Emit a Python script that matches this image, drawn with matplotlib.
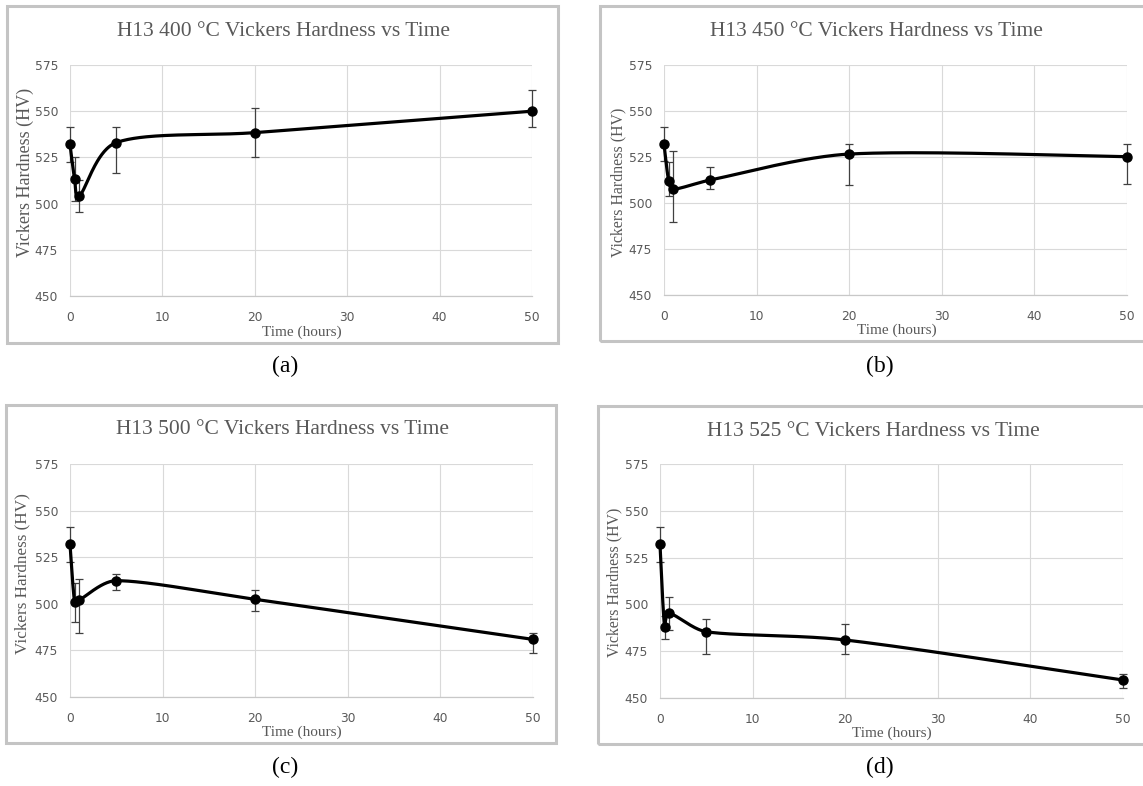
## H13 tempering: Vickers hardness vs time, four temperatures
import matplotlib.pyplot as plt
import numpy as np
from matplotlib.patches import Rectangle

# ---- Data ----
hours = [0, 0.5, 1, 5, 20, 50]

hv_400 = [532, 513.3, 504, 533, 538.4, 550]
err_400_lo = [9.5, 11.7, 8.5, 16.3, 13.0, 8.4]
err_400_hi = [9.5, 11.7, 8.5, 8.6, 13.2, 11.5]

hv_450 = [532, 512.1, 507.5, 512.5, 526.6, 525.2]
err_450_lo = [9.3, 8.3, 18.0, 5.0, 16.8, 15.0]
err_450_hi = [9.3, 10.3, 20.9, 6.9, 5.3, 6.7]

hv_500 = [532, 500.8, 502, 512.4, 502.4, 480.9]
err_500_lo = [9.4, 10.6, 17.5, 5.0, 6.3, 7.1]
err_500_hi = [9.4, 10.6, 11.3, 3.6, 5.0, 3.6]

hv_525 = [532, 487.7, 495.2, 485.4, 481, 459.6]
err_525_lo = [9.3, 6.3, 8.9, 12.1, 7.7, 4.4]
err_525_hi = [9.3, 6.3, 8.9, 6.8, 8.7, 3.0]

temps = ["400", "450", "500", "525"]
panel_tags = ["(a)", "(b)", "(c)", "(d)"]

# ---- Figure in pixel units ----
W, H = 1143, 786
fig = plt.figure(figsize=(W / 100, H / 100), dpi=100)
GRAY = "#595959"


def px_axes(x0, y0, x1, y1):
    return fig.add_axes([x0 / W, 1 - y1 / H, (x1 - x0) / W, (y1 - y0) / H])


def px_text(x, y, s, **kw):
    fig.text(x / W, 1 - y / H, s, ha="center", va="center", **kw)


def px_box(x0, y0, x1, y1):
    fig.add_artist(Rectangle((x0 / W, 1 - y1 / H), (x1 - x0) / W, (y1 - y0) / H,
                             transform=fig.transFigure, fill=False,
                             edgecolor="#c4c4c4", lw=2.2))


# ---- Excel-style smoothed line (Bezier through the points) ----
def smooth_line(x, y, sx, sy, steps=60):
    # work in pixel space so the tangent clamp behaves like on screen
    p = np.column_stack([np.asarray(x) * sx, np.asarray(y) * sy])
    n = len(p)
    tang = []
    for i in range(n):
        a = p[max(i - 1, 0)]
        b = p[min(i + 1, n - 1)]
        tang.append((b - a) / 6)
    t = np.linspace(0, 1, steps)[:, None]
    segs = []
    for i in range(n - 1):
        p1, p2 = p[i], p[i + 1]
        L = np.linalg.norm(p2 - p1)
        t1, t2 = tang[i], tang[i + 1]
        t1 = t1 * min(1, L / 3 / max(np.linalg.norm(t1), 1e-9))
        t2 = t2 * min(1, L / 3 / max(np.linalg.norm(t2), 1e-9))
        c1 = p1 + t1
        c2 = p2 - t2
        segs.append((1 - t) ** 3 * p1 + 3 * (1 - t) ** 2 * t * c1
                    + 3 * (1 - t) * t ** 2 * c2 + t ** 3 * p2)
    c = np.vstack(segs)
    return c[:, 0] / sx, c[:, 1] / sy


# ---- Panel layout (pixels): plot area, frame, text positions ----
panels = [
    dict(hv=hv_400, lo=err_400_lo, hi=err_400_hi,
         plot=(70, 65, 532, 296), frame=(7, 6, 558, 343),
         title=(283.5, 32), ylab=(25, 172, 13.0), xlab=(302, 332), tag=(285, 366)),
    dict(hv=hv_450, lo=err_450_lo, hi=err_450_hi,
         plot=(664, 65, 1127, 295), frame=(600, 6, 1150, 341),
         title=(876.5, 32), ylab=(618, 182, 11.4), xlab=(897, 330), tag=(880, 366)),
    dict(hv=hv_500, lo=err_500_lo, hi=err_500_hi,
         plot=(70, 464, 533, 697), frame=(6, 405, 556, 743),
         title=(282.5, 430), ylab=(22, 574, 12.3), xlab=(302, 732), tag=(285, 767)),
    dict(hv=hv_525, lo=err_525_lo, hi=err_525_hi,
         plot=(660, 464, 1123, 698), frame=(598, 406, 1150, 744),
         title=(873.5, 432), ylab=(614, 582, 11.4), xlab=(892, 733), tag=(880, 767)),
]

for temp, tag, pn in zip(temps, panel_tags, panels):
    px_box(*pn["frame"])
    ax = px_axes(*pn["plot"])
    x0, y0, x1, y1 = pn["plot"]
    sx = (x1 - x0) / 50
    sy = (y1 - y0) / 125

    eb = ax.errorbar(hours, pn["hv"], yerr=[pn["lo"], pn["hi"]], fmt="none",
                     ecolor="#404040", elinewidth=0.9, capsize=3.2, capthick=0.9,
                     zorder=2)
    for art in eb.lines[1] + eb.lines[2]:
        art.set_clip_on(False)
    xs, ys = smooth_line(hours, pn["hv"], sx, sy)
    ax.plot(xs, ys, color="black", lw=2.3, solid_capstyle="round", zorder=3,
            clip_on=False)
    ax.plot(hours, pn["hv"], "o", color="black", ms=6.5, zorder=4, clip_on=False)

    ax.set_xlim(0, 50)
    ax.set_ylim(450, 575)
    ax.set_xticks(np.arange(0, 51, 10))
    ax.set_yticks(np.arange(450, 576, 25))
    ax.grid(True, color="#d9d9d9", lw=0.8)
    ax.set_axisbelow(True)
    for s in ["top", "right", "left"]:
        ax.spines[s].set_visible(False)
    ax.spines["bottom"].set_color("#c8c8c8")
    ax.spines["bottom"].set_linewidth(0.9)
    ax.tick_params(length=0, labelsize=8.8, labelcolor=GRAY)
    ax.tick_params(axis="x", pad=11)
    ax.tick_params(axis="y", pad=8.5)
    ax.set_facecolor("none")

    px_text(*pn["title"], f"H13 {temp} °C Vickers Hardness vs Time",
            family="Liberation Serif", fontsize=15.5, color=GRAY)
    yx, yy, ysz = pn["ylab"]
    px_text(yx, yy, "Vickers Hardness (HV)", family="Liberation Serif",
            fontsize=ysz, color=GRAY, rotation=90)
    px_text(*pn["xlab"], "Time (hours)", family="Liberation Serif",
            fontsize=11, color=GRAY)
    px_text(*pn["tag"], tag, family="Liberation Serif", fontsize=17, color="black")

fig.savefig("out.png", dpi=100)
